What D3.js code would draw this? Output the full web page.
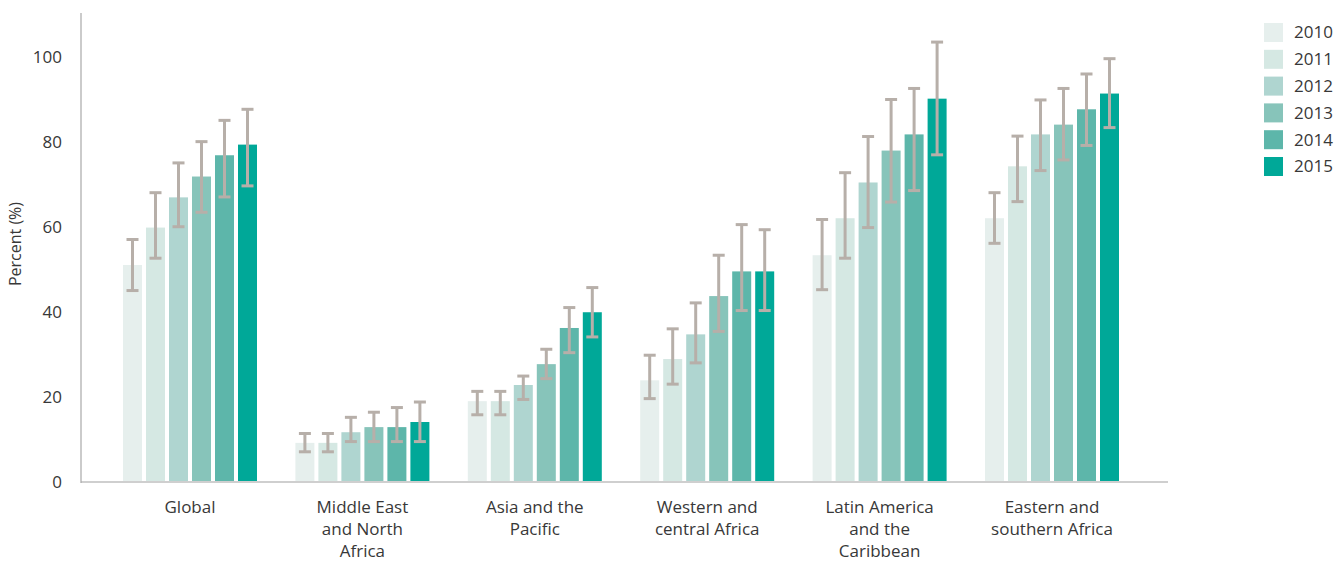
<!DOCTYPE html>
<html>
<head>
<meta charset="utf-8">
<script src="https://cdn.jsdelivr.net/npm/d3@7/dist/d3.min.js"></script>
<style>
  html, body { margin: 0; padding: 0; background: #fff; }
  svg { display: block; font-family: "Open Sans", "Noto Sans", sans-serif; }
</style>
</head>
<body>
<svg id="chart" width="1344" height="562"></svg>
<script>
// ---- Data ----
const categories = [
  "Global",
  "Middle East and North Africa",
  "Asia and the Pacific",
  "Western and central Africa",
  "Latin America and the Caribbean",
  "Eastern and southern Africa"
];
const categoryLines = [
  ["Global"],
  ["Middle East", "and North", "Africa"],
  ["Asia and the", "Pacific"],
  ["Western and", "central Africa"],
  ["Latin America", "and the", "Caribbean"],
  ["Eastern and", "southern Africa"]
];
const years = ["2010", "2011", "2012", "2013", "2014", "2015"];
const yearColors = ["#e6efed", "#d5e8e3", "#afd5d0", "#87c4ba", "#5db6aa", "#00a898"];

// values per year, one entry per category
const value2010 = [51.0, 9.2, 19.0, 23.9, 53.3, 62.0];
const value2011 = [59.8, 9.2, 19.0, 28.9, 62.0, 74.2];
const value2012 = [66.9, 11.7, 22.8, 34.7, 70.4, 81.7];
const value2013 = [71.8, 12.9, 27.7, 43.7, 77.9, 84.0];
const value2014 = [76.8, 12.9, 36.2, 49.5, 81.7, 87.6];
const value2015 = [79.3, 14.1, 39.9, 49.5, 90.1, 91.3];

const lower2010 = [45.0, 7.1, 15.8, 19.6, 45.2, 56.1];
const lower2011 = [52.6, 7.1, 15.8, 23.0, 52.6, 65.9];
const lower2012 = [60.0, 9.5, 19.4, 28.0, 59.8, 73.2];
const lower2013 = [63.4, 9.5, 24.3, 35.4, 65.8, 75.7];
const lower2014 = [67.0, 9.5, 30.4, 40.3, 68.5, 79.1];
const lower2015 = [69.6, 9.5, 34.1, 40.3, 76.9, 83.3];

const upper2010 = [57.0, 11.4, 21.3, 29.8, 61.7, 68.0];
const upper2011 = [68.0, 11.4, 21.3, 36.0, 72.7, 81.3];
const upper2012 = [75.0, 15.2, 24.9, 42.1, 81.2, 89.8];
const upper2013 = [80.0, 16.4, 31.2, 53.3, 89.9, 92.5];
const upper2014 = [85.0, 17.5, 41.0, 60.5, 92.5, 95.9];
const upper2015 = [87.6, 18.8, 45.7, 59.3, 103.4, 99.5];

const yTicks = [0, 20, 40, 60, 80, 100];
const yLabel = "Percent (%)";

const values = [value2010, value2011, value2012, value2013, value2014, value2015];
const lowers = [lower2010, lower2011, lower2012, lower2013, lower2014, lower2015];
const uppers = [upper2010, upper2011, upper2012, upper2013, upper2014, upper2015];

const rows = [];
categories.forEach((c, ci) => {
  years.forEach((yr, yi) => {
    rows.push({ cat: c, year: yr, yi: yi, v: values[yi][ci], lo: lowers[yi][ci], hi: uppers[yi][ci] });
  });
});

// ---- Layout ----
const svg = d3.select("#chart");
const axisLeftX = 81, axisRightX = 1168;

const x0 = d3.scaleBand().domain(categories).range([103.8, 1138.2]).padding(0);
const x1 = d3.scaleBand().domain(years).range([-67, 67]).paddingInner(4 / 23).paddingOuter(0);
const y = d3.scaleLinear().domain([0, 110]).range([482, 14]);
const color = d3.scaleOrdinal().domain(years).range(yearColors);

const textColor = "#383838";

// Bars
const g = svg.append("g");
g.selectAll("rect.bar").data(rows).join("rect")
  .attr("class", "bar")
  .attr("x", d => x0(d.cat) + x0.bandwidth() / 2 + x1(d.year))
  .attr("width", x1.bandwidth())
  .attr("y", d => y(d.v))
  .attr("height", d => y(0) - y(d.v))
  .attr("fill", d => color(d.year));

// Error bars
const errColor = "#b7afa9";
const capW = 12;
const eg = svg.append("g").attr("stroke", errColor).attr("stroke-width", 3).attr("fill", "none");
rows.forEach(d => {
  const cx = x0(d.cat) + x0.bandwidth() / 2 + x1(d.year) + x1.bandwidth() / 2;
  eg.append("line").attr("x1", cx).attr("x2", cx).attr("y1", y(d.hi)).attr("y2", y(d.lo));
  eg.append("line").attr("x1", cx - capW / 2).attr("x2", cx + capW / 2).attr("y1", y(d.hi)).attr("y2", y(d.hi));
  eg.append("line").attr("x1", cx - capW / 2).attr("x2", cx + capW / 2).attr("y1", y(d.lo)).attr("y2", y(d.lo));
});

// Axes lines
svg.append("line")
  .attr("x1", axisLeftX).attr("x2", axisRightX)
  .attr("y1", y(0)).attr("y2", y(0))
  .attr("stroke", "#cfcfcf").attr("stroke-width", 2);
svg.append("line")
  .attr("x1", axisLeftX).attr("x2", axisLeftX)
  .attr("y1", y(110) - 1).attr("y2", y(0) + 1)
  .attr("stroke", "#a8a8a8").attr("stroke-width", 1.2);

// Y ticks
const yAxis = d3.axisLeft(y).tickValues(yTicks).tickSize(0).tickPadding(0).tickFormat(d3.format("d"));
const ya = svg.append("g").attr("transform", `translate(62,0)`).call(yAxis);
ya.select(".domain").remove();
ya.selectAll("text").attr("font-size", 17).attr("fill", textColor)
  .attr("font-family", "'Open Sans', sans-serif").attr("dy", "0.35em");

// Y label
svg.append("text")
  .attr("transform", `translate(21,244) rotate(-90)`)
  .attr("text-anchor", "middle")
  .attr("font-size", 16)
  .attr("fill", textColor)
  .text(yLabel);

// X category labels
const xl = svg.append("g");
categories.forEach((c, ci) => {
  const t = xl.append("text")
    .attr("x", x0(c) + x0.bandwidth() / 2)
    .attr("y", 513)
    .attr("text-anchor", "middle")
    .attr("font-size", 17)
    .attr("fill", textColor);
  categoryLines[ci].forEach((ln, li) => {
    t.append("tspan").attr("x", x0(c) + x0.bandwidth() / 2).attr("y", 513 + li * 22).text(ln);
  });
});

// Legend
const lg = svg.append("g").attr("transform", "translate(1264,23)");
const legendStep = 26.8;
years.forEach((yr, i) => {
  lg.append("rect").attr("x", 0).attr("y", i * legendStep).attr("width", 19).attr("height", 19).attr("fill", color(yr));
  lg.append("text").attr("x", 30).attr("y", i * legendStep + 9.5).attr("dy", "0.35em")
    .attr("font-size", 17).attr("fill", textColor).text(yr);
});
</script>
</body>
</html>
